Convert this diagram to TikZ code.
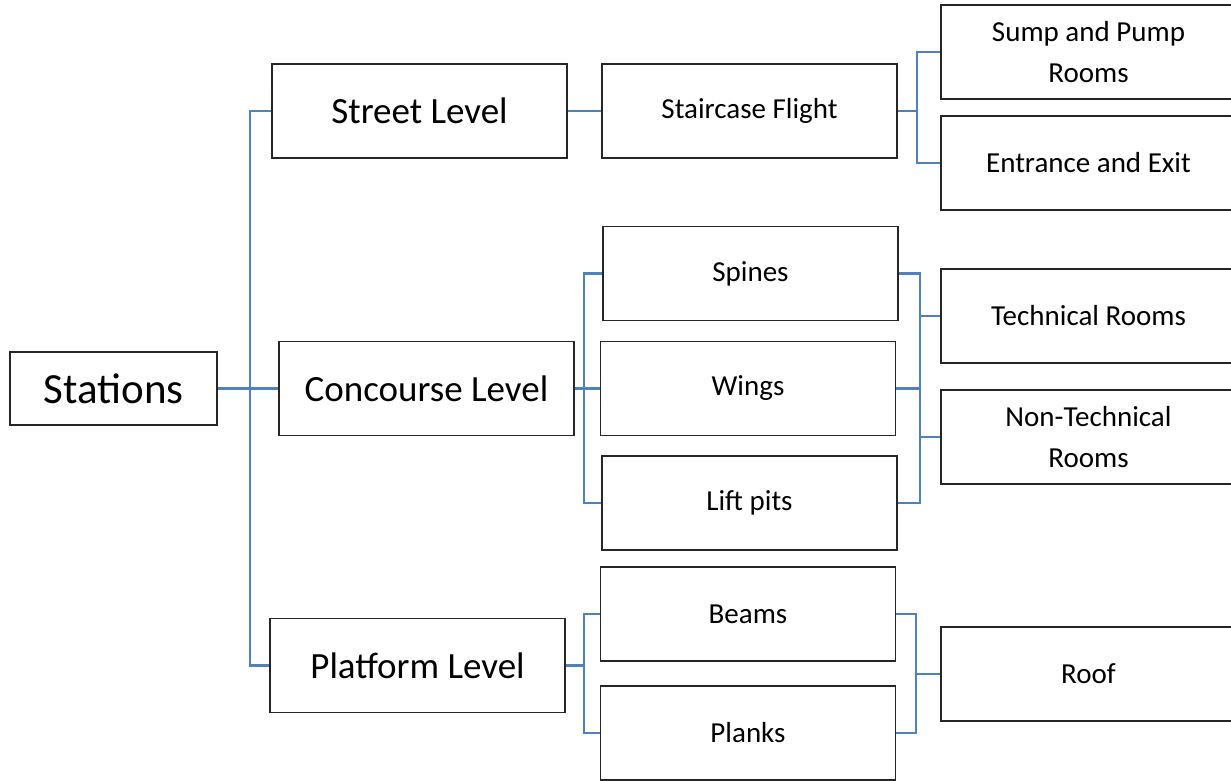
\documentclass[tikz,border=0pt]{standalone}
\usepackage{fontspec}
\setmainfont{Carlito}
\usetikzlibrary{positioning}
\definecolor{linkblue}{HTML}{4F81BD}
\tikzset{box/.style={draw=black!85,line width=1.4pt,minimum width=295pt,minimum height=94pt,align=center,inner sep=0pt,font=\fontsize{29}{41}\selectfont},lvl/.style={box,font=\fontsize{37}{44}\selectfont},link/.style={draw=linkblue,line width=2.2pt}}

\begin{document}
\begin{tikzpicture}[x=1pt,y=-1pt]
\clip (0,0) rectangle (1231,780);
\node[box,minimum width=207pt,minimum height=73pt,font=\fontsize{43}{50}\selectfont] (stations) at (113.5,388.5) {Stations};
\node[lvl] (street) at (419.5,111) {Street Level};
\node[lvl] (concourse) at (426.5,388.5) {Concourse Level};
\node[lvl] (platform) at (417.5,665.5) {Platform Level};
\node[box] (staircase) at (749.5,111) {Staircase Flight};
\node[box] (sump) at (1088.5,52) {Sump and Pump\\Rooms};
\node[box] (entrance) at (1088.5,163) {Entrance and Exit};
\node[box] (spines) at (750.5,273.5) {Spines};
\node[box] (wings) at (748,388.5) {Wings};
\node[box] (lift) at (749.5,503) {Lift pits};
\node[box] (technical) at (1088.5,316) {Technical Rooms};
\node[box] (nontech) at (1088.5,437) {Non-Technical\\Rooms};
\node[box] (beams) at (748,614) {Beams};
\node[box] (planks) at (748,733) {Planks};
\node[box] (roof) at (1088.5,674) {Roof};
% trunk
\coordinate (j0) at (250,388.5);
\draw[link] (stations.east) -- (concourse.west);
\foreach \n in {street,platform}{\draw[link] (j0) |- (\n.west);}
% street level
\coordinate (j1) at (917,111);
\draw[link] (street) -- (staircase);
\draw[link] (staircase.east) -- (j1);
\foreach \n in {sump,entrance}{\draw[link] (j1) |- (\n.west);}
% concourse level
\coordinate (j2) at (584,388.5);
\coordinate (j3) at (920,388.5);
\draw[link] (concourse.east) -- (wings.west);
\foreach \n in {spines,lift}{\draw[link] (j2) |- (\n.west); \draw[link] (\n.east) -| (j3);}
\draw[link] (wings.east) -- (j3);
\foreach \n in {technical,nontech}{\draw[link] (j3) |- (\n.west);}
% platform level
\coordinate (j4) at (584,665.5);
\coordinate (j5) at (916,674);
\draw[link] (platform.east) -- (j4);
\foreach \n in {beams,planks}{\draw[link] (j4) |- (\n.west); \draw[link] (\n.east) -| (j5);}
\draw[link] (j5) -- (roof.west);
\end{tikzpicture}
\end{document}
